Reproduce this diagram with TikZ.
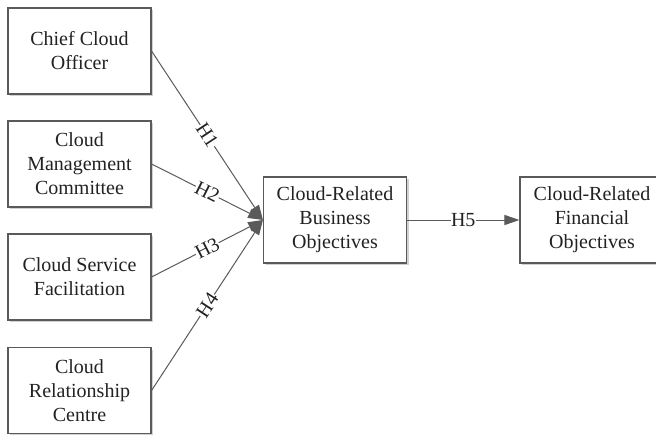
\documentclass[tikz,border=0pt]{standalone}
\usepackage{fontspec}
\setmainfont{Liberation Serif}
\usetikzlibrary{arrows.meta,shadows}
\definecolor{linegray}{HTML}{5A5A5A}
\definecolor{textgray}{HTML}{222222}
\begin{document}
\begin{tikzpicture}[x=1pt,y=-1pt,
  box/.style={draw=linegray, line width=1.1pt, fill=white, minimum width=143pt, minimum height=86pt,
    align=center, font=\fontsize{20}{24}\selectfont, text=textgray, inner sep=0pt,
    drop shadow={shadow xshift=2pt, shadow yshift=-2pt, fill=black!18, opacity=1}},
  conn/.style={draw=linegray, line width=1pt, -{Triangle[length=15pt,width=10pt]}},
  lab/.style={fill=white, inner sep=0.5pt, font=\fontsize{20}{24}\selectfont, text=textgray}]
\useasboundingbox (0,0) rectangle (656,434);
\node[box] (a) at (79.5,51) {Chief Cloud\\Officer};
\node[box] (b) at (79.5,164) {Cloud\\Management\\Committee};
\node[box] (c) at (79.5,277) {Cloud Service\\Facilitation};
\node[box] (d) at (79.5,390.5) {Cloud\\Relationship\\Centre};
\node[box] (e) at (335,220) {Cloud-Related\\Business\\Objectives};
\node[box, minimum width=144pt] (f) at (592,220) {Cloud-Related\\Financial\\Objectives};
\draw[conn] (a.east) -- node[lab, sloped] {H1} (e.west);
\draw[conn] (b.east) -- node[lab, sloped] {H2} (e.west);
\draw[conn] (c.east) -- node[lab, sloped] {H3} (e.west);
\draw[conn] (d.east) -- node[lab, sloped] {H4} (e.west);
\draw[conn] (e.east) -- node[lab] {H5} (f.west);
\end{tikzpicture}
\end{document}
